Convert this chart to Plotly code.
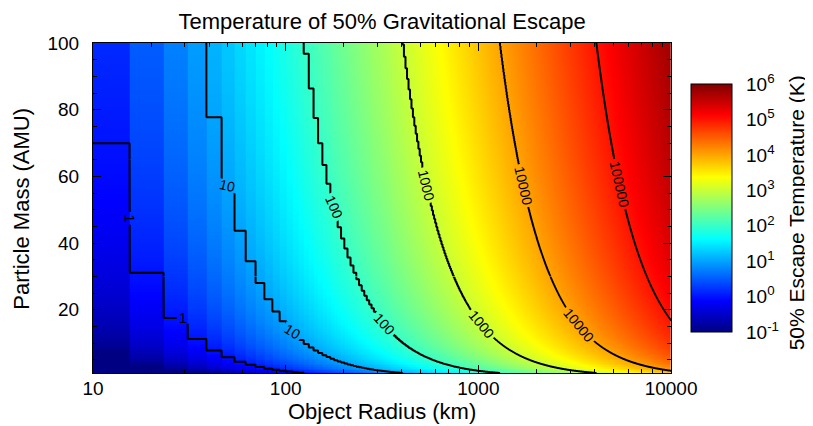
import numpy as np
import plotly.graph_objects as go

# ---------------- data ----------------
# Radius grid of the image: 1290 equal columns spanning 0-10000 km (~7.75 km each);
# each column is coloured with the value at its right edge.
N_RADIUS_COLUMNS = 1290
RADIUS_SPAN_KM = 10000.0
radius_edges_km = np.linspace(0.0, RADIUS_SPAN_KM, N_RADIUS_COLUMNS + 1)[1:]
column_left_km = radius_edges_km[:-1]
column_right_km = radius_edges_km[1:]

# Particle mass rows (AMU)
mass_rows_amu = np.arange(1.0, 100.001, 0.5)

# 50% escape temperature scales as T = C * m * R^2; C read off the contour positions
# (T = 1 K at m = 70 AMU for the 15.5 km column, T = 1000 K at m = 100 AMU near R = 410 km)
T_COEFF_K_PER_AMU_KM2 = 5.95e-5

contour_levels_k = [1, 10, 100, 1000, 10000, 100000]
# each contour is drawn in mass bands so that it carries inline labels in two places
contour_mass_bands = [(1.0, 30.0), (30.0, 85.0), (85.0, 100.0)]
contour_mass_bands_level1 = [(1.0, 30.0), (30.0, 65.0), (65.0, 100.0)]

x_tick_vals = [10, 100, 1000, 10000]
x_tick_text = ["10", "100", "1000", "10000"]
x_minor_vals = [20, 30, 40, 50, 60, 70, 80, 90,
                200, 300, 400, 500, 600, 700, 800, 900,
                2000, 3000, 4000, 5000, 6000, 7000, 8000, 9000]
y_tick_vals = [20, 40, 60, 80, 100]
y_minor_vals = list(range(5, 100, 5))

cbar_exponents = [-1, 0, 1, 2, 3, 4, 5, 6]
cbar_tick_vals = [10.0 ** e for e in cbar_exponents]
cbar_tick_text = ["10<sup>%d</sup>" % e for e in cbar_exponents]
cbar_minor_vals = [d * 10.0 ** e for e in cbar_exponents[:-1] for d in range(2, 10)]

TITLE = "Temperature of 50% Gravitational Escape"
X_TITLE = "Object Radius (km)"
Y_TITLE = "Particle Mass (AMU)"
CBAR_TITLE = "50% Escape Temperature (K)"

# ---------------- derived fields ----------------
temp_grid = T_COEFF_K_PER_AMU_KM2 * mass_rows_amu[:, None] * column_right_km[None, :] ** 2
log_temp = np.log10(temp_grid).astype(np.float32)

# contour grid: two nodes per column (piecewise-constant in radius => staircase contours)
eps = 0.02
xc = np.empty(2 * len(column_left_km))
xc[0::2] = column_left_km + eps
xc[1::2] = column_right_km - eps
col_vals = np.repeat(column_right_km, 2)

FONT = "Liberation Sans"
jet = [[0.0, "rgb(0,0,131)"], [0.125, "rgb(0,0,255)"], [0.375, "rgb(0,255,255)"],
       [0.625, "rgb(255,255,0)"], [0.875, "rgb(255,0,0)"], [1.0, "rgb(128,0,0)"]]

# layout geometry: page pixels of the window; the figure div sits 8 px in from the page corner
PAGE_OFF = 8
W, H = 813 - PAGE_OFF, 426 - PAGE_OFF
plot_left, plot_right, plot_top, plot_bottom = 92.7, 671.0, 42.7, 372.7   # page px
ML = plot_left - PAGE_OFF
MT = plot_top - PAGE_OFF
MB = H - (plot_bottom - PAGE_OFF)
MR = 4
PW = W - ML - MR
PH = H - MT - MB
cb_left, cb_thick, cb_top, cb_bottom = 691.0, 41.0, 84.0, 331.7           # page px
cb_len = cb_bottom - cb_top


def px_x(px):  # page px -> paper x
    return (px - PAGE_OFF - ML) / PW


def px_y(py):  # page px -> paper y
    return (H - MB - (py - PAGE_OFF)) / PH


x_dom_end = px_x(plot_right)
cb_lo, cb_hi = px_y(cb_bottom), px_y(cb_top)
plot_cx = (plot_left + plot_right) / 2

fig = go.Figure()
fig.add_trace(go.Heatmap(
    x=radius_edges_km, y=mass_rows_amu, z=log_temp,
    colorscale=jet, zmin=-1, zmax=6, hoverinfo="skip",
    colorbar=dict(x=px_x(cb_left), xanchor="left", xref="paper",
                  y=(cb_lo + cb_hi) / 2, yanchor="middle", len=cb_len, lenmode="pixels",
                  thickness=cb_thick, outlinecolor="black", outlinewidth=1,
                  ticks="", showticklabels=False, xpad=0, ypad=0),
))
for lvl in contour_levels_k:
    bands = contour_mass_bands_level1 if lvl == 1 else contour_mass_bands
    for (m_lo, m_hi) in bands:
        yc = np.array([m_lo, m_hi])
        zc = T_COEFF_K_PER_AMU_KM2 * yc[:, None] * col_vals[None, :] ** 2
        fig.add_trace(go.Contour(
            x=xc, y=yc, z=zc, autocontour=False,
            contours=dict(start=lvl, end=lvl, size=1, coloring="none", showlabels=True,
                          labelfont=dict(family=FONT, size=14, color="black"),
                          labelformat="d"),
            line=dict(color="black", width=2, smoothing=0), showscale=False,
            hoverinfo="skip",
        ))
# invisible subplot whose y axis carries the colour-bar ticks and labels
fig.add_trace(go.Scatter(x=[None], y=[None], xaxis="x2", yaxis="y2",
                         showlegend=False, hoverinfo="skip"))

axis_common = dict(showline=True, linecolor="black", linewidth=1, mirror="allticks",
                   ticks="inside", ticklen=8, tickwidth=1, tickcolor="black",
                   showgrid=False, zeroline=False, automargin=False,
                   tickfont=dict(family=FONT, size=19, color="black"))
fig.update_layout(
    width=W, height=H, margin=dict(l=ML, r=MR, t=MT, b=MB, autoexpand=False),
    paper_bgcolor="white", plot_bgcolor="rgba(0,0,0,0)", showlegend=False,
    font=dict(family=FONT, color="black"),
    title=dict(text=TITLE, x=px_x(plot_cx), xref="paper", xanchor="center",
               y=1 - (21 - PAGE_OFF) / H, yref="container", yanchor="middle",
               font=dict(family=FONT, size=22, color="black"), automargin=False),
    xaxis=dict(type="log", range=[1, 4], domain=[0, x_dom_end],
               tickmode="array", tickvals=x_tick_vals, ticktext=x_tick_text,
               minor=dict(tickmode="array", tickvals=x_minor_vals, ticks="inside",
                          ticklen=4, tickcolor="black", showgrid=False),
               ticklabelstandoff=-2, **axis_common),
    yaxis=dict(range=[1, 100], tickmode="array", tickvals=y_tick_vals,
               minor=dict(tickmode="array", tickvals=y_minor_vals, ticks="inside",
                          ticklen=4, tickcolor="black", showgrid=False),
               ticklabelstandoff=9, **axis_common),
    xaxis2=dict(domain=[px_x(cb_left), px_x(cb_left + cb_thick)], anchor="y2",
                visible=False, range=[0, 1]),
    yaxis2=dict(type="log", range=[-1, 6], domain=[cb_lo, cb_hi], anchor="free",
                position=px_x(cb_left + cb_thick), side="right", automargin=False,
                showline=False, showgrid=False, zeroline=False,
                ticks="inside", ticklen=8, tickwidth=1, tickcolor="black",
                tickmode="array", tickvals=cbar_tick_vals, ticktext=cbar_tick_text,
                minor=dict(tickmode="array", tickvals=cbar_minor_vals, ticks="inside",
                           ticklen=4, tickcolor="black", showgrid=False),
                tickfont=dict(family=FONT, size=19, color="black"),
                ticklabelstandoff=13),
    annotations=[
        dict(text=X_TITLE, x=px_x(plot_cx), xref="paper",
             y=px_y(411), yref="paper", xanchor="center", yanchor="middle",
             showarrow=False, font=dict(family=FONT, size=22, color="black")),
        dict(text=Y_TITLE, textangle=-90, x=px_x(21), xref="paper",
             y=px_y(208), yref="paper", xanchor="center", yanchor="middle",
             showarrow=False, font=dict(family=FONT, size=22, color="black")),
        dict(text=CBAR_TITLE, textangle=-90, x=px_x(796), xref="paper",
             y=px_y(213), yref="paper", xanchor="center", yanchor="middle",
             showarrow=False, font=dict(family=FONT, size=21, color="black")),
    ],
)
fig.write_html("out.html")
